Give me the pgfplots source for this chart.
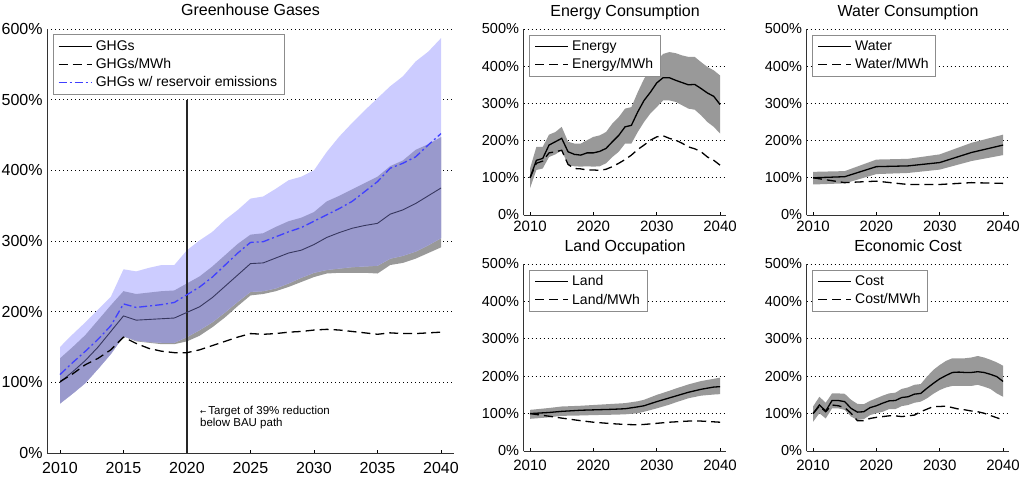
\documentclass[border=0pt]{standalone}
\usepackage{fontspec}
\setmainfont{Liberation Sans}
\newfontfamily\dejavu{DejaVu Sans}
\usepackage{pgfplots}
\usepackage{pgfplotstable}
\pgfplotsset{compat=1.18}
\usepgfplotslibrary{fillbetween}

\definecolor{bandgray}{RGB}{153,153,153}
\definecolor{bandblue}{RGB}{204,204,255}
\definecolor{bandover}{RGB}{153,153,204}
\definecolor{resblue}{RGB}{64,64,255}
\definecolor{ghgline}{RGB}{55,55,95}

% greenhouse gases, % of 2010
\pgfplotstableread{
year ghg  mwh res grayhi graylo bluehi bluelo
2010 100  101 111 134 70  150 70
2011 115  112 128 150 84  168 84
2012 131  125 144 167 99  185 99
2013 150  134 161 188 119 203 119
2014 172  146 180 209 140 221 140
2015 194  164 211 229 165 260 165
2016 188  155 206 225 158 257 159
2017 189  148 208 227 156 262 157
2018 190  144 210 229 154 266 156
2019 191  142 213 230 154 266 156
2020 199  142 224 240 158 287 164
2021 207  146 235 250 166 301 174
2022 220  152 249 264 178 313 185
2023 236  158 266 280 192 330 199
2024 252  164 283 296 208 344 214
2025 268  169 298 309 223 360 228
2026 269  168 299 311 225 363 229
2027 276  169 306 320 229 374 233
2028 283  171 313 328 235 386 240
2029 287  172 319 333 242 391 248
2030 295  174 328 341 249 400 255
2031 305  175 337 356 254 426 259
2032 312  174 346 364 255 448 261
2033 318  172 356 373 255 467 263
2034 322  170 370 382 255 485 264
2035 325  168 384 391 254 502 265
2036 338  170 403 406 266 519 275
2037 344  169 410 414 269 533 279
2038 353  169 419 429 275 554 285
2039 364  170 436 437 283 568 294
2040 375  171 452 447 291 587 304
}\ghgtab

\pgfplotstableread{
year mid mwh lo hi
2010 100 100 72 125
2011 147 139 121 183
2012 152 145 125 183
2013 188 167 156 216
2014 197 170 163 223
2015 206 174 174 237
2016 170 136 134 197
2017 163 125 131 192
2018 161 124 130 192
2019 167 121 131 201
2020 167 121 130 210
2021 171 120 131 214
2022 179 123 139 223
2023 197 130 156 246
2024 214 139 170 263
2025 237 149 192 286
2026 241 161 192 290
2027 277 176 223 330
2028 308 188 250 366
2029 330 201 273 393
2030 355 210 290 415
2031 369 213 308 433
2032 369 206 308 438
2033 362 201 304 435
2034 356 193 295 429
2035 350 183 286 425
2036 351 178 283 425
2037 340 170 268 411
2038 328 156 250 398
2039 319 147 237 389
2040 297 134 219 375
}\energytab

\pgfplotstableread{
year mid mwh lo hi
2010 100 100 82 116
2015 103 87 85 118
2020 130 91 110 149
2025 132 82 113 151
2030 141 82 122 163
2035 168 87 145 194
2040 188 85 161 216
}\watertab

\pgfplotstableread{
year mid mwh lo hi
2010 100 100 86 110
2013 103 93 90 115
2015 106 88 94 119
2018 109 81 95 121
2020 110 77 96 123
2023 111.5 73 97 126
2025 113 71 98 128
2027 118 70 101 133
2028 121 71 105 137
2030 132 74 114 150
2032 142 77 124 161
2033 147 78 130 167
2035 157 80 141 178
2037 165 80 148 187
2039 171 78 151 193
2040 172 77 152 196
}\landtab

\pgfplotstableread{
year mid mwh lo hi
2010 100 100 78 119
2011 123 120 101 145
2012 107 105 87 129
2013 135 123 114 154
2014 135 121 114 154
2015 132 116 110 153
2016 114 101 92 137
2017 104 81 83 126
2018 105 81 85 125
2019 116 87 96 134
2020 121 90 101 141
2021 128 92 105 148
2022 134 94 112 154
2023 135 94 112 156
2024 143 92 120 166
2025 145 94 123 170
2026 152 96 129 177
2027 154 105 132 179
2028 168 112 141 199
2029 181 119 153 217
2030 193 119 163 230
2031 202 120 170 241
2032 210 116 174 248
2033 211 112 174 248
2034 210 110 174 248
2035 210 107 174 250
2036 212 105 177 254
2037 210 101 172 250
2038 205 95 166 244
2039 199 89 154 237
2040 186 83 145 228
}\costtab

\pgfplotsset{
  panel/.style={
    scale only axis, set layers,
    xmin=2009, xmax=2041, ymin=0,
    axis x line*=bottom, axis y line*=left,
    axis line style={-, black!80, line width=0.7pt},
    ymajorgrids,
    grid style={black, line width=0.7pt, dash pattern=on 0.9pt off 3.1pt},
    tick align=inside, major tick length=3.5pt,
    ytick style={draw=none}, xtick style={black, line width=0.7pt},
    /pgf/number format/assume math mode=true,
    /pgf/number format/1000 sep={},
    yticklabel={\pgfmathprintnumber{\tick}\%},
    yticklabel style={anchor=east, inner sep=0pt, xshift=-4.5pt},
    xticklabel style={anchor=base, inner sep=0pt},
    every axis title/.style={at={(0.5,1)}, anchor=base, yshift=13pt,
      font=\fontsize{16}{18}\selectfont},
    legend style={at={(0,1)}, anchor=north west, xshift=5.5pt, yshift=-5.5pt,
      draw=black!45, line width=0.6pt, fill=white,
      inner xsep=5pt, inner ysep=4pt, row sep=2.5pt,
      font=\fontsize{14}{16}\selectfont,
      /tikz/every odd column/.append style={column sep=1.5pt}},
    legend cell align=left,
    legend image code/.code={\draw[#1, line width=1.2pt] (0pt,0pt) -- (33pt,0pt);},
  },
  small/.style={
    panel, width=202.7pt, ymax=500,
    xtick={2010,2020,2030,2040}, ytick={0,100,...,500},
    yticklabel style={font=\fontsize{14.5}{16}\selectfont},
    xticklabel style={font=\fontsize{15}{17}\selectfont},
  },
  midline/.style={black, line width=1.3pt},
  perline/.style={black, line width=1.3pt, dash pattern=on 9pt off 5pt},
}

\begin{document}
\begin{tikzpicture}

% big panel
\begin{axis}[panel, at={(47.3pt,27pt)}, width=406.4pt, height=424pt,
  ymax=600, xtick={2010,2015,...,2040}, ytick={0,100,...,600},
  yticklabel style={font=\fontsize{16}{18}\selectfont},
  xticklabel style={font=\fontsize{16}{18}\selectfont, yshift=-20pt},
  title={Greenhouse Gases}]
  \addplot[draw=none, name path=gH, forget plot] table[x=year, y=grayhi] {\ghgtab};
  \addplot[draw=none, name path=gL, forget plot] table[x=year, y=graylo] {\ghgtab};
  \addplot[draw=none, name path=bH, forget plot] table[x=year, y=bluehi] {\ghgtab};
  \addplot[draw=none, name path=bL, forget plot] table[x=year, y=bluelo] {\ghgtab};
  \addplot[bandgray, forget plot] fill between[of=gH and gL];
  \addplot[bandblue, forget plot] fill between[of=bH and bL];
  \addplot[bandover, forget plot] fill between[of=gH and bL];
  \addplot[black!85, line width=1.2pt, forget plot] coordinates {(2020,0) (2020,500)};
  \addplot[ghgline, line width=0.9pt, legend image post style={black}] table[x=year, y=ghg] {\ghgtab};
  \addlegendentry{GHGs}
  \addplot[black, line width=1.3pt, dash pattern=on 9pt off 5pt] table[x=year, y=mwh] {\ghgtab};
  \addlegendentry{GHGs/MWh}
  \addplot[resblue, line width=1.3pt, dash pattern=on 8pt off 3pt on 2pt off 3pt] table[x=year, y=res] {\ghgtab};
  \addlegendentry{GHGs w/ reservoir emissions}
  \node[anchor=base west, inner sep=0pt, font=\fontsize{11.5}{13}\selectfont]
    at (axis cs:2021.02,53.8) {{\dejavu\fontsize{7.5}{7.5}\selectfont ←}\hspace{2pt}Target of 39\% reduction};
  \node[anchor=base west, inner sep=0pt, font=\fontsize{11.5}{13}\selectfont]
    at (axis cs:2021.02,36.8) {below BAU path};
\end{axis}

% energy
\begin{axis}[small, at={(523.7pt,265pt)}, height=186pt,
  xticklabel style={yshift=-16pt}, title={Energy Consumption}]
  \addplot[draw=none, name path=eH, forget plot] table[x=year, y=hi] {\energytab};
  \addplot[draw=none, name path=eL, forget plot] table[x=year, y=lo] {\energytab};
  \addplot[bandgray, forget plot] fill between[of=eH and eL];
  \addplot[midline] table[x=year, y=mid] {\energytab};
  \addlegendentry{Energy}
  \addplot[perline] table[x=year, y=mwh] {\energytab};
  \addlegendentry{Energy/MWh}
\end{axis}

% water
\begin{axis}[small, at={(806.7pt,265pt)}, height=186pt,
  xticklabel style={yshift=-16pt}, title={Water Consumption}]
  \addplot[draw=none, name path=wH, forget plot] table[x=year, y=hi] {\watertab};
  \addplot[draw=none, name path=wL, forget plot] table[x=year, y=lo] {\watertab};
  \addplot[bandgray, forget plot] fill between[of=wH and wL];
  \addplot[midline] table[x=year, y=mid] {\watertab};
  \addlegendentry{Water}
  \addplot[perline] table[x=year, y=mwh] {\watertab};
  \addlegendentry{Water/MWh}
\end{axis}

% land
\begin{axis}[small, at={(523.7pt,29pt)}, height=187pt,
  xticklabel style={yshift=-19pt}, title={Land Occupation}]
  \addplot[draw=none, name path=lH, forget plot] table[x=year, y=hi] {\landtab};
  \addplot[draw=none, name path=lL, forget plot] table[x=year, y=lo] {\landtab};
  \addplot[bandgray, forget plot] fill between[of=lH and lL];
  \addplot[midline] table[x=year, y=mid] {\landtab};
  \addlegendentry{Land}
  \addplot[perline] table[x=year, y=mwh] {\landtab};
  \addlegendentry{Land/MWh}
\end{axis}

% cost
\begin{axis}[small, at={(806.7pt,29pt)}, height=187pt,
  xticklabel style={yshift=-19pt}, title={Economic Cost}]
  \addplot[draw=none, name path=cH, forget plot] table[x=year, y=hi] {\costtab};
  \addplot[draw=none, name path=cL, forget plot] table[x=year, y=lo] {\costtab};
  \addplot[bandgray, forget plot] fill between[of=cH and cL];
  \addplot[midline] table[x=year, y=mid] {\costtab};
  \addlegendentry{Cost}
  \addplot[perline] table[x=year, y=mwh] {\costtab};
  \addlegendentry{Cost/MWh}
\end{axis}

\pgfresetboundingbox
\path (0,0) rectangle (1024pt,480pt);
\end{tikzpicture}
\end{document}
